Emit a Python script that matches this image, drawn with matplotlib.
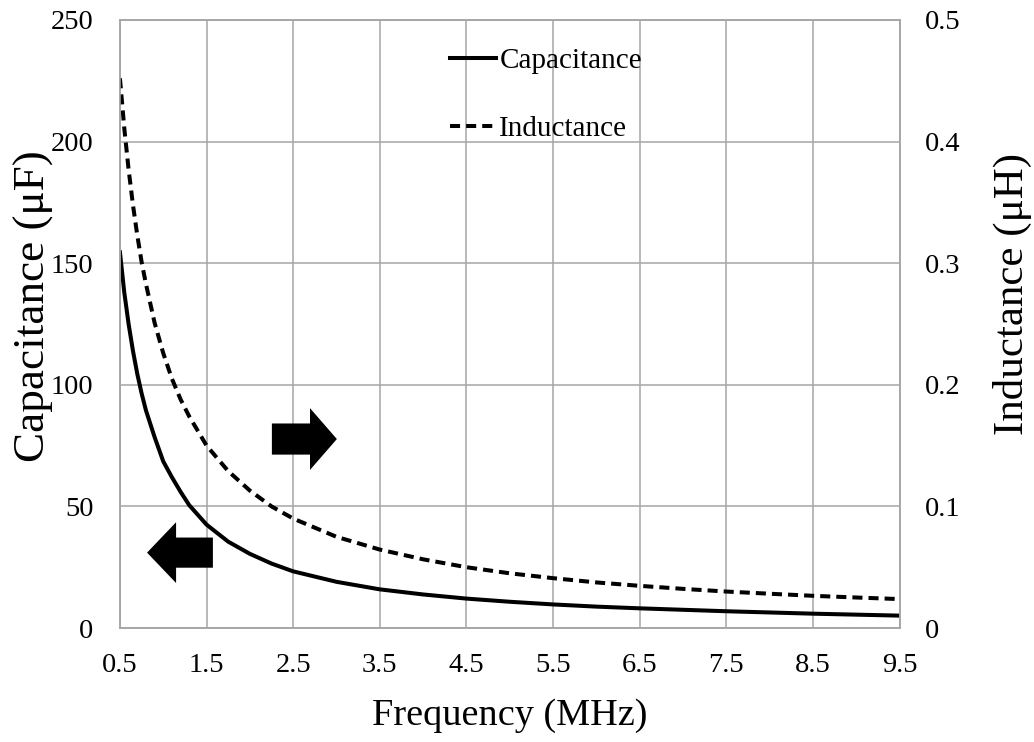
"""
Capacitance and inductance versus switching frequency, on twin y axes.
"""

import matplotlib
matplotlib.use("Agg")
import matplotlib.pyplot as plt
from matplotlib.patches import FancyArrow


frequency_mhz = [0.5, 0.55, 0.6, 0.65, 0.7, 0.75, 0.8, 0.9, 1.0, 1.1, 1.2,
                 1.3, 1.5, 1.75, 2.0, 2.25, 2.5, 3.0, 3.5, 4.0, 4.5, 5.0,
                 5.5, 6.0, 6.5, 7.0, 7.5, 8.0, 8.5, 9.0, 9.5]

capacitance_uf = [154.5, 138, 125, 114, 104.5, 96.5, 89.5, 78.5, 68.5, 62,
                  56, 50.5, 42.5, 35.5, 30.5, 26.5, 23.3, 19.0, 15.9, 13.8,
                  12.1, 10.8, 9.7, 8.8, 8.1, 7.5, 6.9, 6.4, 5.9, 5.5, 5.1]

inductance_uh = [0.452, 0.411, 0.377, 0.348, 0.323, 0.301, 0.283, 0.251,
                 0.226, 0.205, 0.188, 0.174, 0.150, 0.129, 0.113, 0.100,
                 0.090, 0.075, 0.0645, 0.0565, 0.050, 0.045, 0.041, 0.0375,
                 0.0347, 0.0322, 0.030, 0.0282, 0.0265, 0.0251, 0.0238]

x_ticks = [0.5, 1.5, 2.5, 3.5, 4.5, 5.5, 6.5, 7.5, 8.5, 9.5]
cap_ticks = [0, 50, 100, 150, 200, 250]
ind_ticks = [0, 0.1, 0.2, 0.3, 0.4, 0.5]

GRID = "#a6a6a6"

plt.rcParams["font.family"] = ["Liberation Serif", "DejaVu Serif"]

fig = plt.figure(figsize=(10.34, 7.42), dpi=100)
ax = fig.add_axes([0.116, 0.1536, 0.754, 0.8195])
ax2 = ax.twinx()

line_c, = ax.plot(frequency_mhz, capacitance_uf, color="black", lw=2.9,
                  label="Capacitance")
line_l, = ax2.plot(frequency_mhz, inductance_uh, color="black", lw=2.9,
                   linestyle=(0, (2.5, 1.5)), label="Inductance")

ax.set_xlim(0.5, 9.5)
ax.set_ylim(0, 250)
ax2.set_ylim(0, 0.5)
ax.set_xticks(x_ticks)
ax.set_xticklabels([f"{v:g}" for v in x_ticks])
ax.set_yticks(cap_ticks)
ax2.set_yticks(ind_ticks)
ax2.set_yticklabels(["0", "0.1", "0.2", "0.3", "0.4", "0.5"])

ax.grid(True, color=GRID, linewidth=1.1)
ax.set_axisbelow(True)
for a in (ax, ax2):
    for spine in a.spines.values():
        spine.set_color(GRID)
        spine.set_linewidth(1.1)
    a.tick_params(length=0, labelsize=20.5)
ax.tick_params(axis="x", pad=18)
ax.tick_params(axis="y", pad=19)
ax2.tick_params(axis="y", pad=18)

ax.set_xlabel("Frequency (MHz)", fontsize=27.5)
ax.set_ylabel("Capacitance (μF)", fontsize=32.5)
ax2.set_ylabel("Inductance (μH)", fontsize=31)
ax.xaxis.set_label_coords(0.5, -0.115)
ax.yaxis.set_label_coords(-0.085, 0.53)
ax2.yaxis.set_label_coords(1.12, 0.55)

# block arrows showing which axis each curve belongs to
ax.add_patch(FancyArrow(1.573, 31.0, -0.76, 0, width=12.4, head_width=25,
                        head_length=0.335, length_includes_head=True,
                        color="black", lw=0))
ax.add_patch(FancyArrow(2.254, 77.7, 0.75, 0, width=12.8, head_width=25.4,
                        head_length=0.31, length_includes_head=True,
                        color="black", lw=0))

ax.legend(handles=[line_c, line_l], loc="upper left",
          bbox_to_anchor=(0.423, 0.955), frameon=False, fontsize=21,
          handlelength=1.6, handletextpad=0.1, labelspacing=1.45,
          borderpad=0, borderaxespad=0)

fig.savefig("out.png", dpi=100)
